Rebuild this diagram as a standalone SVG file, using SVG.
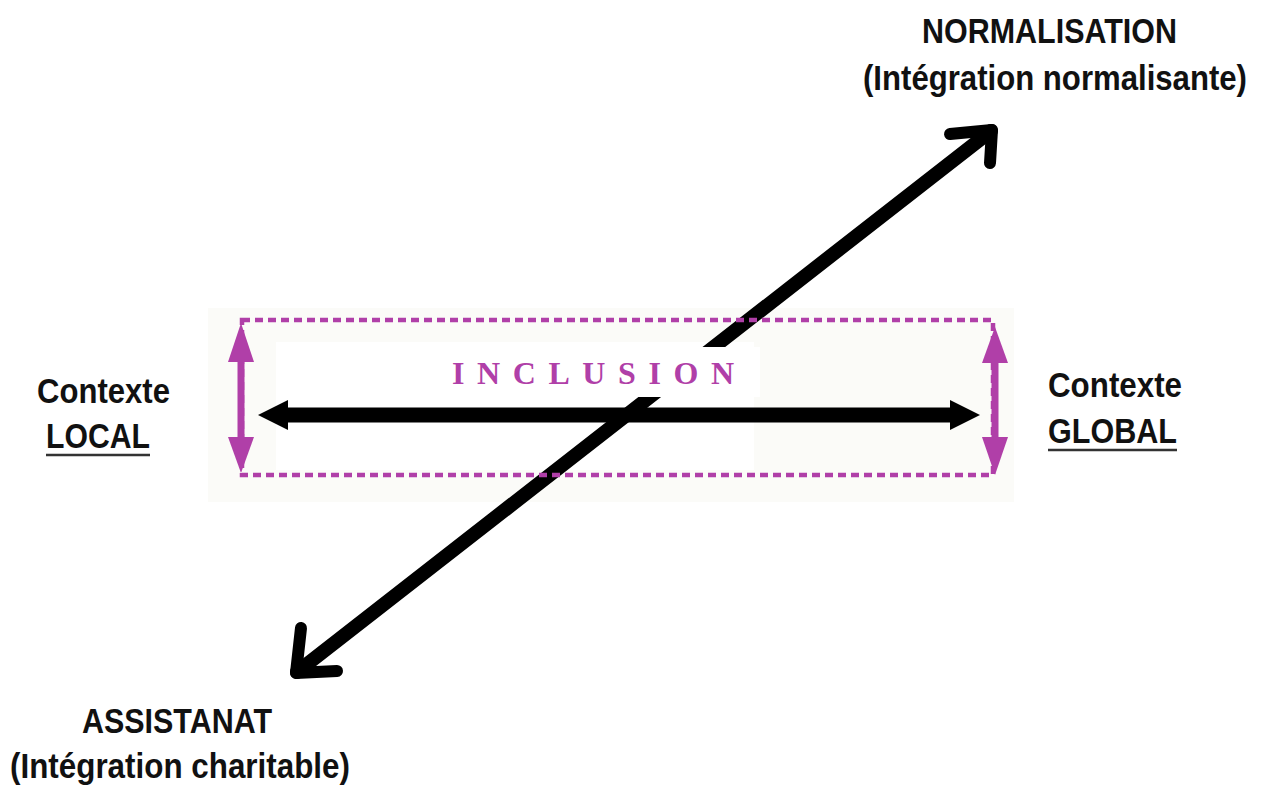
<svg xmlns="http://www.w3.org/2000/svg" width="1268" height="789" viewBox="0 0 1268 789">
<defs>
<style>
.lbl{font-family:"Liberation Sans",Arial,sans-serif;font-weight:bold;fill:#111;font-size:35px}
.mag{stroke:#B03FA8;fill:none}
.magf{fill:#B03FA8}
.blk{stroke:#000;fill:none;stroke-linecap:round;stroke-linejoin:round}
</style>
</defs>
<rect width="1268" height="789" fill="#fff"/>
<g id="zone">
<rect x="208" y="308" width="806" height="194" fill="#fbfbf8"/>
<rect x="276" y="342" width="478" height="128" fill="#fff"/>
</g>
<g id="connectors">
<g id="diagonal">
<line x1="297" y1="672" x2="991" y2="131" class="blk" stroke-width="14"/>
<polyline points="950,134 992,130 990,163" class="blk" stroke-width="12"/>
<polyline points="301,628 296,673 337,671" class="blk" stroke-width="12"/>
</g>
</g>
<g id="inclusion">
<rect x="440" y="347" width="320" height="50" fill="#fff"/>
<rect x="242" y="320" width="751" height="155" class="mag" stroke-width="4.5" stroke-dasharray="8 5"/>
<text x="452" y="384" font-family="'Liberation Serif',serif" font-weight="bold" font-size="32" fill="#B03FA8" textLength="282" lengthAdjust="spacing">INCLUSION</text>
</g>
<g id="horizontal">
<line x1="282" y1="415" x2="956" y2="415" stroke="#000" stroke-width="15"/>
<polygon points="258,415 288,400 288,430" fill="#000"/>
<polygon points="980,415 950,400 950,430" fill="#000"/>
</g>
<g id="local-arrow">
<line x1="241" y1="355" x2="241" y2="442" class="mag" stroke-width="7"/>
<polygon points="241,323 228,362 254,362" class="magf"/>
<polygon points="241,473 228,437 254,437" class="magf"/>
</g>
<g id="global-arrow">
<line x1="995" y1="355" x2="995" y2="442" class="mag" stroke-width="7"/>
<polygon points="995,327 982,363 1008,363" class="magf"/>
<polygon points="995,475 982,437 1008,437" class="magf"/>
</g>
<g id="normalisation">
<text class="lbl" x="922" y="43" textLength="255" lengthAdjust="spacingAndGlyphs">NORMALISATION</text>
<text class="lbl" transform="translate(863,90) scale(1,1.12)" x="0" y="0" style="font-size:31px" textLength="384" lengthAdjust="spacingAndGlyphs">(Intégration normalisante)</text>
</g>
<g id="local">
<text class="lbl" x="37" y="403" textLength="133" lengthAdjust="spacingAndGlyphs">Contexte</text>
<text class="lbl" x="46" y="448" textLength="104" lengthAdjust="spacingAndGlyphs">LOCAL</text>
<line x1="46" y1="455" x2="150" y2="455" stroke="#333" stroke-width="2.5"/>
</g>
<g id="global">
<text class="lbl" x="1048" y="397" textLength="134" lengthAdjust="spacingAndGlyphs">Contexte</text>
<text class="lbl" x="1048" y="443" textLength="129" lengthAdjust="spacingAndGlyphs">GLOBAL</text>
<line x1="1048" y1="450" x2="1177" y2="450" stroke="#333" stroke-width="2.5"/>
</g>
<g id="assistanat">
<text class="lbl" x="82" y="733" textLength="190" lengthAdjust="spacingAndGlyphs">ASSISTANAT</text>
<text class="lbl" x="10" y="778" textLength="340" lengthAdjust="spacingAndGlyphs">(Intégration charitable)</text>
</g>
</svg>
